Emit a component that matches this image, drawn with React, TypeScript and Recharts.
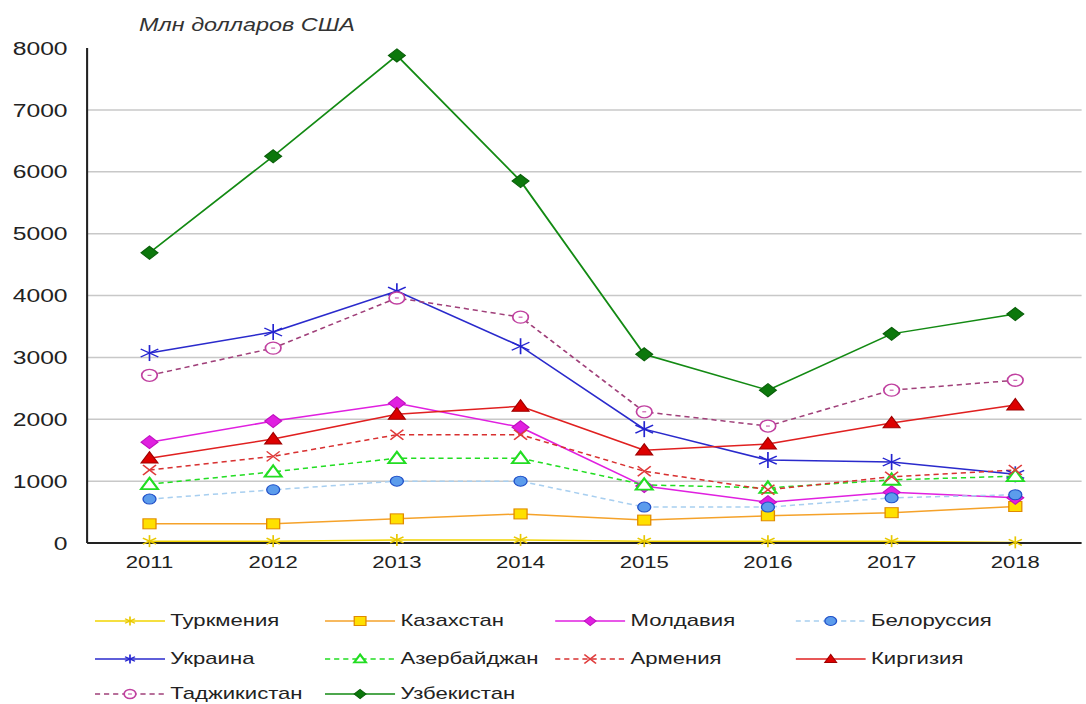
import React from "react";
import { LineChart, Line, XAxis, YAxis, CartesianGrid } from "recharts";

// values in млн долларов США
const years = ["2011", "2012", "2013", "2014", "2015", "2016", "2017", "2018"];
const yTicks = [0, 1000, 2000, 3000, 4000, 5000, 6000, 7000, 8000];

const turkmenia = [30, 30, 50, 50, 30, 30, 30, 10];
const kazakhstan = [310, 310, 390, 470, 370, 440, 490, 590];
const moldavia = [1630, 1970, 2260, 1870, 920, 660, 820, 730];
const belorussia = [710, 860, 1000, 1000, 580, 580, 730, 780];
const ukraina = [3070, 3410, 4070, 3180, 1840, 1340, 1310, 1110];
const azerbaijan = [950, 1150, 1370, 1370, 940, 890, 1020, 1080];
const armenia = [1180, 1400, 1750, 1750, 1160, 860, 1070, 1180];
const kirgizia = [1370, 1680, 2080, 2210, 1500, 1600, 1940, 2230];
const tajikistan = [2710, 3150, 3960, 3650, 2120, 1890, 2470, 2630];
const uzbekistan = [4690, 6250, 7880, 5850, 3050, 2470, 3380, 3700];

type Kind = "asterisk" | "square" | "diamond" | "circle" | "ring" | "triangle" | "openTriangle" | "x";

interface Series {
  key: string;
  name: string;
  values: number[];
  color: string;
  dash?: string;
  kind: Kind;
  mStroke: string;
  mFill: string;
  size: number;
}

const series: Series[] = [
  { key: "tm", name: "Туркмения", values: turkmenia, color: "#f2d400", kind: "asterisk", mStroke: "#e8c800", mFill: "none", size: 6 },
  { key: "kz", name: "Казахстан", values: kazakhstan, color: "#f5a22a", kind: "square", mStroke: "#e08a00", mFill: "#ffe000", size: 5 },
  { key: "md", name: "Молдавия", values: moldavia, color: "#e020e0", kind: "diamond", mStroke: "#c010c0", mFill: "#e020e0", size: 6.5 },
  { key: "by", name: "Белоруссия", values: belorussia, color: "#a8cff0", dash: "4 3", kind: "circle", mStroke: "#2050c8", mFill: "#5c9cec", size: 5 },
  { key: "ua", name: "Украина", values: ukraina, color: "#2a2acc", kind: "asterisk", mStroke: "#2424d0", mFill: "none", size: 8 },
  { key: "az", name: "Азербайджан", values: azerbaijan, color: "#22dd22", dash: "4 3", kind: "openTriangle", mStroke: "#22dd22", mFill: "#ffffff", size: 6.5 },
  { key: "am", name: "Армения", values: armenia, color: "#d83030", dash: "4 3", kind: "x", mStroke: "#e03a3a", mFill: "none", size: 5 },
  { key: "kg", name: "Киргизия", values: kirgizia, color: "#e02020", kind: "triangle", mStroke: "#a00000", mFill: "#dd0000", size: 6.5 },
  { key: "tj", name: "Таджикистан", values: tajikistan, color: "#a0407a", dash: "4 3", kind: "ring", mStroke: "#c040a0", mFill: "#ffffff", size: 6 },
  { key: "uz", name: "Узбекистан", values: uzbekistan, color: "#138a13", kind: "diamond", mStroke: "#0a600a", mFill: "#0c780c", size: 6.5 },
];

const data = years.map((y, i) => {
  const row: Record<string, string | number> = { year: y };
  series.forEach((s) => { row[s.key] = s.values[i]; });
  return row;
});

// the source picture is stretched sideways, so draw narrow and widen it
const STRETCH = 1.3;
const W = 835;
const FONT = "'Liberation Sans', Arial, sans-serif";

function Mark({ s, cx, cy }: { s: Series; cx: number; cy: number }) {
  const r = s.size;
  const sw = 1.3;
  switch (s.kind) {
    case "asterisk":
      return (
        <g stroke={s.mStroke} strokeWidth={sw}>
          <line x1={cx} y1={cy - r} x2={cx} y2={cy + r} />
          <line x1={cx - r * 0.85} y1={cy - r * 0.5} x2={cx + r * 0.85} y2={cy + r * 0.5} />
          <line x1={cx - r * 0.85} y1={cy + r * 0.5} x2={cx + r * 0.85} y2={cy - r * 0.5} />
        </g>
      );
    case "square":
      return <rect x={cx - r} y={cy - r} width={r * 2} height={r * 2} fill={s.mFill} stroke={s.mStroke} strokeWidth={1} />;
    case "diamond":
      return <polygon points={`${cx},${cy - r} ${cx + r},${cy} ${cx},${cy + r} ${cx - r},${cy}`} fill={s.mFill} stroke={s.mStroke} strokeWidth={1} />;
    case "circle":
      return <circle cx={cx} cy={cy} r={r} fill={s.mFill} stroke={s.mStroke} strokeWidth={1} />;
    case "ring":
      return (
        <g>
          <circle cx={cx} cy={cy} r={r} fill={s.mFill} stroke={s.mStroke} strokeWidth={1.3} />
          <line x1={cx - 1.5} y1={cy} x2={cx + 1.5} y2={cy} stroke={s.mStroke} strokeWidth={1} />
        </g>
      );
    case "triangle":
    case "openTriangle":
      return (
        <polygon
          points={`${cx},${cy - r} ${cx + r},${cy + r * 0.75} ${cx - r},${cy + r * 0.75}`}
          fill={s.mFill}
          stroke={s.mStroke}
          strokeWidth={s.kind === "openTriangle" ? 1.8 : 1}
        />
      );
    case "x":
      return (
        <g stroke={s.mStroke} strokeWidth={sw}>
          <line x1={cx - r} y1={cy - r} x2={cx + r} y2={cy + r} />
          <line x1={cx - r} y1={cy + r} x2={cx + r} y2={cy - r} />
        </g>
      );
  }
  return null;
}

const legendCols = [73, 250, 427, 612];
const legendRows = [621, 659, 694];

function LegendItem({ s, i }: { s: Series; i: number }) {
  const left = legendCols[i % 4];
  const top = legendRows[Math.floor(i / 4)];
  return (
    <div style={{ position: "absolute", left, top: top - 8, height: 16, display: "flex", alignItems: "center" }}>
      <svg width={54} height={16} style={{ display: "block" }}>
        <line x1={0} y1={8} x2={54} y2={8} stroke={s.color} strokeWidth={1.5} strokeDasharray={s.dash} />
        <Mark s={{ ...s, size: Math.min(s.size, 4.5) }} cx={27} cy={8} />
      </svg>
      <span style={{ marginLeft: 4, fontSize: 17, lineHeight: "16px", color: "#222", fontFamily: FONT, whiteSpace: "nowrap" }}>{s.name}</span>
    </div>
  );
}

export default function App() {
  return (
    <div style={{ position: "absolute", left: 0, top: 0, width: 1086, height: 704, background: "#fff", overflow: "hidden" }}>
      <div style={{ position: "absolute", left: 0, top: 0, width: W, height: 704, transform: `scaleX(${STRETCH})`, transformOrigin: "0 0" }}>
        <div style={{ position: "absolute", left: 107, top: 15, fontSize: 18, fontStyle: "italic", color: "#333", fontFamily: FONT, whiteSpace: "nowrap" }}>
          Млн долларов США
        </div>
        <LineChart width={W} height={590} data={data} margin={{ top: 48, right: 3, bottom: 17, left: 0 }}>
          <CartesianGrid vertical={false} horizontalValues={[1000, 2000, 3000, 4000, 5000, 6000, 7000]} stroke="#c8c8c8" strokeWidth={1.5} />
          <XAxis
            dataKey="year"
            height={30}
            padding={{ left: 48, right: 51 }}
            tickLine={false}
            tickSize={0}
            tickMargin={13}
            axisLine={{ stroke: "#222", strokeWidth: 2 }}
            tick={{ fontSize: 17, fill: "#222", fontFamily: FONT }}
          />
          <YAxis
            width={67}
            domain={[0, 8000]}
            ticks={yTicks}
            interval={0}
            tickLine={false}
            tickSize={0}
            tickMargin={15}
            axisLine={{ stroke: "#222", strokeWidth: 1.6 }}
            tick={{ fontSize: 19, fill: "#222", fontFamily: FONT }}
          />
          {series.map((s) => (
            <Line
              key={s.key}
              dataKey={s.key}
              name={s.name}
              type="linear"
              stroke={s.color}
              strokeWidth={1.5}
              strokeDasharray={s.dash}
              isAnimationActive={false}
              activeDot={false}
              dot={(p: any) => <Mark key={`${s.key}-${p.index}`} s={s} cx={p.cx} cy={p.cy} />}
            />
          ))}
        </LineChart>
        {series.map((s, i) => <LegendItem key={s.key} s={s} i={i} />)}
      </div>
    </div>
  );
}
